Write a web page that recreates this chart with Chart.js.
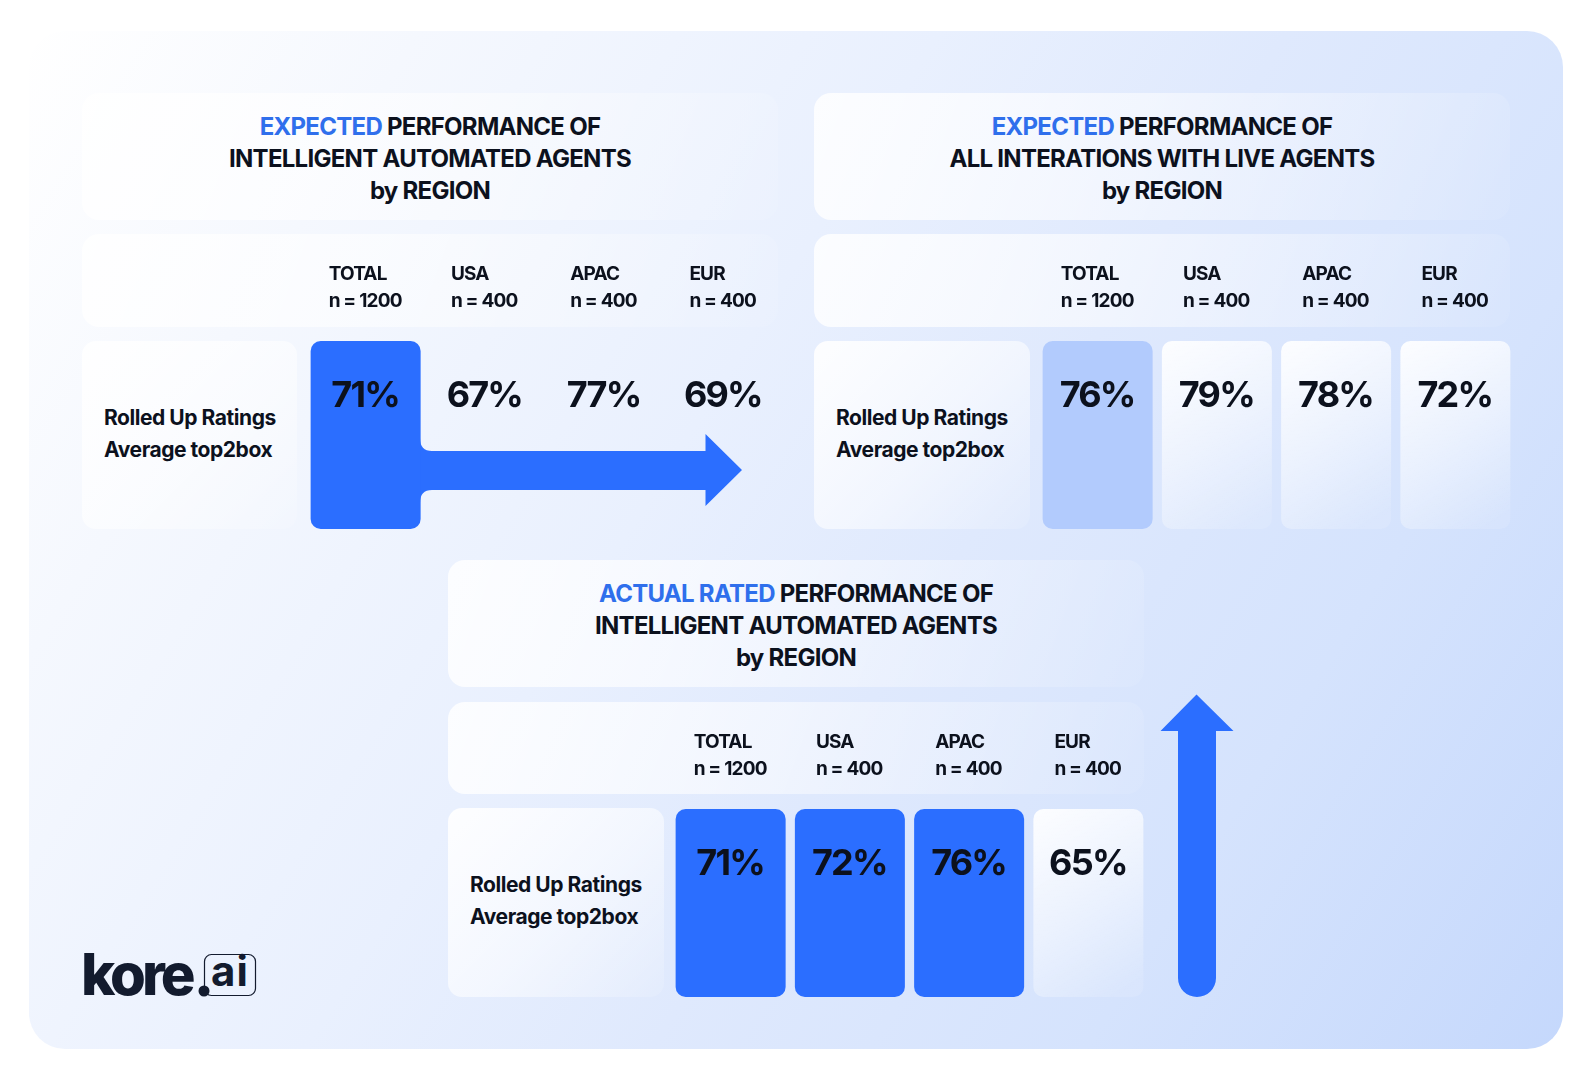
<!DOCTYPE html>
<html><head><meta charset="utf-8">
<script src="https://cdn.jsdelivr.net/npm/chart.js@4/dist/chart.umd.min.js"></script>
<style>
html,body{margin:0;padding:0;background:#fff;width:1592px;height:1080px;overflow:hidden;font-family:Inter,'Noto Sans',sans-serif;color:#0c111d}
#bg{position:absolute;left:29px;top:31px;width:1534px;height:1018px;border-radius:36px;
 background:linear-gradient(122deg,#ffffff 0%,#f5f8fe 18%,#e9f0fe 42%,#dfe9fd 58%,#d5e3fd 78%,#c5d8fc 100%)}
.panel{position:absolute;border-radius:17px;background:linear-gradient(110deg,rgba(255,255,255,.85) 0%,rgba(255,255,255,.55) 45%,rgba(255,255,255,.06) 100%)}
.cellp{position:absolute;border-radius:14px;background:linear-gradient(135deg,rgba(255,255,255,.92) 0%,rgba(255,255,255,.55) 55%,rgba(255,255,255,.1) 100%)}
.title{position:absolute;width:696px;text-align:center;font-weight:700;font-size:24px;line-height:32px;letter-spacing:-.72px;white-space:nowrap}
.title b{font-weight:700;color:#2f6fec}
.row{position:absolute;font-weight:700;font-size:21px;line-height:32px;letter-spacing:-.45px;white-space:nowrap}
canvas{position:absolute;display:block}
svg{position:absolute;left:0;top:0}
.lg{position:absolute;font-weight:800;color:#131b2e;white-space:nowrap}
</style></head><body>
<div id="bg"></div>

<div class="panel" style="left:82px;top:93px;width:696px;height:127px"></div>
<div class="panel" style="left:82px;top:234px;width:696px;height:93px"></div>
<div class="cellp" style="left:82px;top:341px;width:215px;height:188px"></div>

<div class="panel" style="left:814px;top:93px;width:696px;height:127px"></div>
<div class="panel" style="left:814px;top:234px;width:696px;height:93px"></div>
<div class="cellp" style="left:814px;top:341px;width:216px;height:188px"></div>

<div class="panel" style="left:448px;top:560px;width:696px;height:127px"></div>
<div class="panel" style="left:448px;top:702px;width:696px;height:92px"></div>
<div class="cellp" style="left:448px;top:808px;width:216px;height:189px"></div>

<div class="title" style="left:82px;top:111px"><b>EXPECTED</b> PERFORMANCE OF<br>INTELLIGENT AUTOMATED AGENTS<br>by REGION</div>
<div class="title" style="left:814px;top:111px"><b>EXPECTED</b> PERFORMANCE OF<br>ALL INTERATIONS WITH LIVE AGENTS<br>by REGION</div>
<div class="title" style="left:448px;top:578px"><b>ACTUAL RATED</b> PERFORMANCE OF<br>INTELLIGENT AUTOMATED AGENTS<br>by REGION</div>

<div class="row" style="left:104px;top:402px">Rolled Up Ratings<br>Average top2box</div>
<div class="row" style="left:836px;top:402px">Rolled Up Ratings<br>Average top2box</div>
<div class="row" style="left:470px;top:869px">Rolled Up Ratings<br>Average top2box</div>

<svg width="1592" height="1080">
 <path fill="#2b6eff" d="M410 438 L420 438 Q420 451 432 451 L705.5 451 L705.5 434 L742 470 L705.5 506 L705.5 490 L432 490 Q420 490 420 503 L410 503 Z"/>
 <path fill="#2b6eff" d="M1196.5 694.5 L1233.5 731 L1216 731 L1216 978 A19 19 0 0 1 1178 978 L1178 731 L1160.5 731 Z"/>
 <rect x="204.5" y="954.5" width="51" height="41" rx="7" fill="none" stroke="#131b2e" stroke-width="1.2"/>
 <circle cx="204" cy="991" r="5.5" fill="#131b2e"/>
</svg>
<div class="lg" style="left:81px;top:939px;font-size:58px;line-height:70px;letter-spacing:-4px">kore</div>
<div class="lg" style="left:211px;top:947px;font-size:42px;line-height:48px;letter-spacing:1px;font-weight:700">ai</div>

<canvas id="c1" width="477" height="295" style="left:306px;top:234px;width:477px;height:295px"></canvas>
<canvas id="c2" width="477" height="295" style="left:1038px;top:234px;width:477px;height:295px"></canvas>
<canvas id="c3" width="477" height="295" style="left:671px;top:702px;width:477px;height:295px"></canvas>

<script>
const regions = ['TOTAL','USA','APAC','EUR'];
const sampleSizes = [1200,400,400,400];
const expectedAutomated = [71,67,77,69];
const expectedLive = [76,79,78,72];
const actualAutomated = [71,72,76,65];
const cellSpan = [1,1,1,1];
const BLUE='#2b6eff', SOFT='#b2cbfd', CLEAR='rgba(255,255,255,0)', GLASS='glass';
const cellsExpectedAutomated = [BLUE,CLEAR,CLEAR,CLEAR];
const cellsExpectedLive = [SOFT,GLASS,GLASS,GLASS];
const cellsActualAutomated = [BLUE,BLUE,BLUE,GLASS];

const tickLabels = regions.map((r,i)=>[r,'n = '+sampleSizes[i]]);
const FONT="Inter, 'Noto Sans', sans-serif", INK='#0c111d';

const cellPlugin = {
  id:'cellText',
  afterLayout(chart){
    const items = chart.scales.x.getLabelItems();
    items[0].options.translation[0] -= 3;
  },
  beforeDraw(chart){ chart.ctx.letterSpacing='-0.8px'; },
  afterDatasetsDraw(chart){
    const ctx=chart.ctx, vals=chart.data.datasets[1].data, a=chart.chartArea;
    ctx.save();
    ctx.letterSpacing='-1.8px';
    ctx.font="700 36px "+FONT; ctx.fillStyle=INK; ctx.textAlign='center'; ctx.textBaseline='middle';
    vals.forEach((v,i)=>ctx.fillText(v+'%',chart.scales.x.getPixelForValue(i)-0.5,a.top+55));
    ctx.restore();
  }
};

function draw(id,values,fills){
  new Chart(document.getElementById(id),{
    type:'bar',
    plugins:[cellPlugin],
    data:{labels:tickLabels,datasets:[
      {data:cellSpan,yAxisID:'y',barPercentage:110/119.25,categoryPercentage:1,borderRadius:10,borderSkipped:false,
       backgroundColor(c){
         const f=fills[c.dataIndex], area=c.chart.chartArea;
         if(f!==GLASS) return f;
         if(!area) return CLEAR;
         const x=c.chart.scales.x.getPixelForValue(c.dataIndex);
         const g=c.chart.ctx.createLinearGradient(x-55,area.top,x+55,area.top+170);
         g.addColorStop(0,'rgba(255,255,255,.92)');
         g.addColorStop(.55,'rgba(255,255,255,.5)');
         g.addColorStop(1,'rgba(255,255,255,.12)');
         return g;
       }},
      {type:'line',data:values,yAxisID:'pct',showLine:false,pointRadius:0,pointHoverRadius:0}
    ]},
    options:{
      responsive:false,animation:false,devicePixelRatio:1,
      layout:{padding:0},
      plugins:{legend:{display:false},tooltip:{enabled:false}},
      scales:{
        x:{position:'top',offset:true,grid:{display:false,drawTicks:false},border:{display:false},
           afterFit(s){s.height=107;s.paddingLeft=0;s.paddingRight=0;},
           ticks:{autoSkip:false,maxRotation:0,minRotation:0,align:'start',labelOffset:-34,padding:26,color:INK,
                  font:{family:FONT,size:19,weight:'700',lineHeight:1.42}}},
        y:{display:false,min:0,max:1},
        pct:{display:false,min:0,max:100}
      }
    }
  });
}
draw('c1',expectedAutomated,cellsExpectedAutomated);
draw('c2',expectedLive,cellsExpectedLive);
draw('c3',actualAutomated,cellsActualAutomated);
</script>
</body></html>
